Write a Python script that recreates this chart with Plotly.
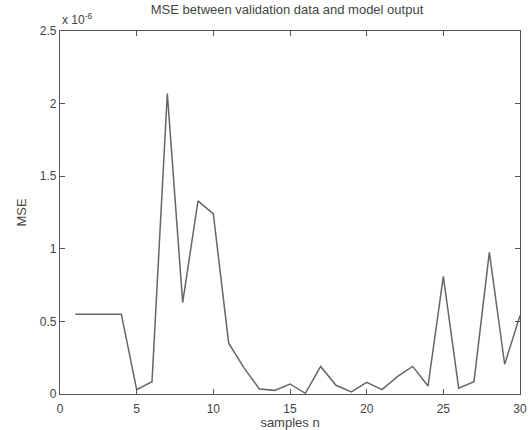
import plotly.graph_objects as go

samples = list(range(1, 31))
mse_e6 = [0.55, 0.55, 0.55, 0.55, 0.03, 0.085, 2.07, 0.63, 1.33, 1.24,
          0.35, 0.18, 0.035, 0.025, 0.069, 0.005, 0.19, 0.06, 0.015, 0.08,
          0.03, 0.12, 0.19, 0.055, 0.81, 0.04, 0.085, 0.976, 0.205, 0.54]
x_ticks = [0, 5, 10, 15, 20, 25, 30]
y_ticks = [0, 0.5, 1, 1.5, 2, 2.5]
y_tick_text = ["0", "0.5", "1", "1.5", "2", "2.5"]

font = "Liberation Sans, Arial, sans-serif"
fig = go.Figure()
fig.add_trace(go.Scatter(x=samples, y=mse_e6, mode="lines",
                         line=dict(color="#666666", width=1.5),
                         showlegend=False, hoverinfo="skip"))
axis_common = dict(showline=True, linecolor="#555", linewidth=1.4, mirror="ticks",
                   ticks="inside", ticklen=5, tickcolor="#555", tickwidth=1,
                   showgrid=False, zeroline=False, automargin=False,
                   tickfont=dict(family=font, size=12, color="#444"))
fig.update_xaxes(range=[0, 30], tickvals=x_ticks, ticklabelstandoff=3,
                 title=dict(text="samples n", standoff=2,
                            font=dict(family=font, size=13, color="#444")), **axis_common)
fig.update_yaxes(range=[0, 2.5], tickvals=y_ticks, ticktext=y_tick_text,
                 title=dict(text="MSE", standoff=10, font=dict(family=font, size=13, color="#444")),
                 **axis_common)
fig.add_annotation(text="x 10<sup>-6</sup>", xref="paper", yref="paper", x=0, y=1,
                   xanchor="left", yanchor="bottom", yshift=2, showarrow=False,
                   font=dict(family=font, size=12, color="#444"))
fig.update_layout(
    width=528, height=430,
    margin=dict(l=60, r=8, t=31, b=36),
    paper_bgcolor="white", plot_bgcolor="white",
    title=dict(text="MSE between validation data and model output", x=0.5436, xanchor="center",
               y=0.988, yanchor="top", font=dict(family=font, size=13, color="#444")),
)
fig.write_html("out.html")
